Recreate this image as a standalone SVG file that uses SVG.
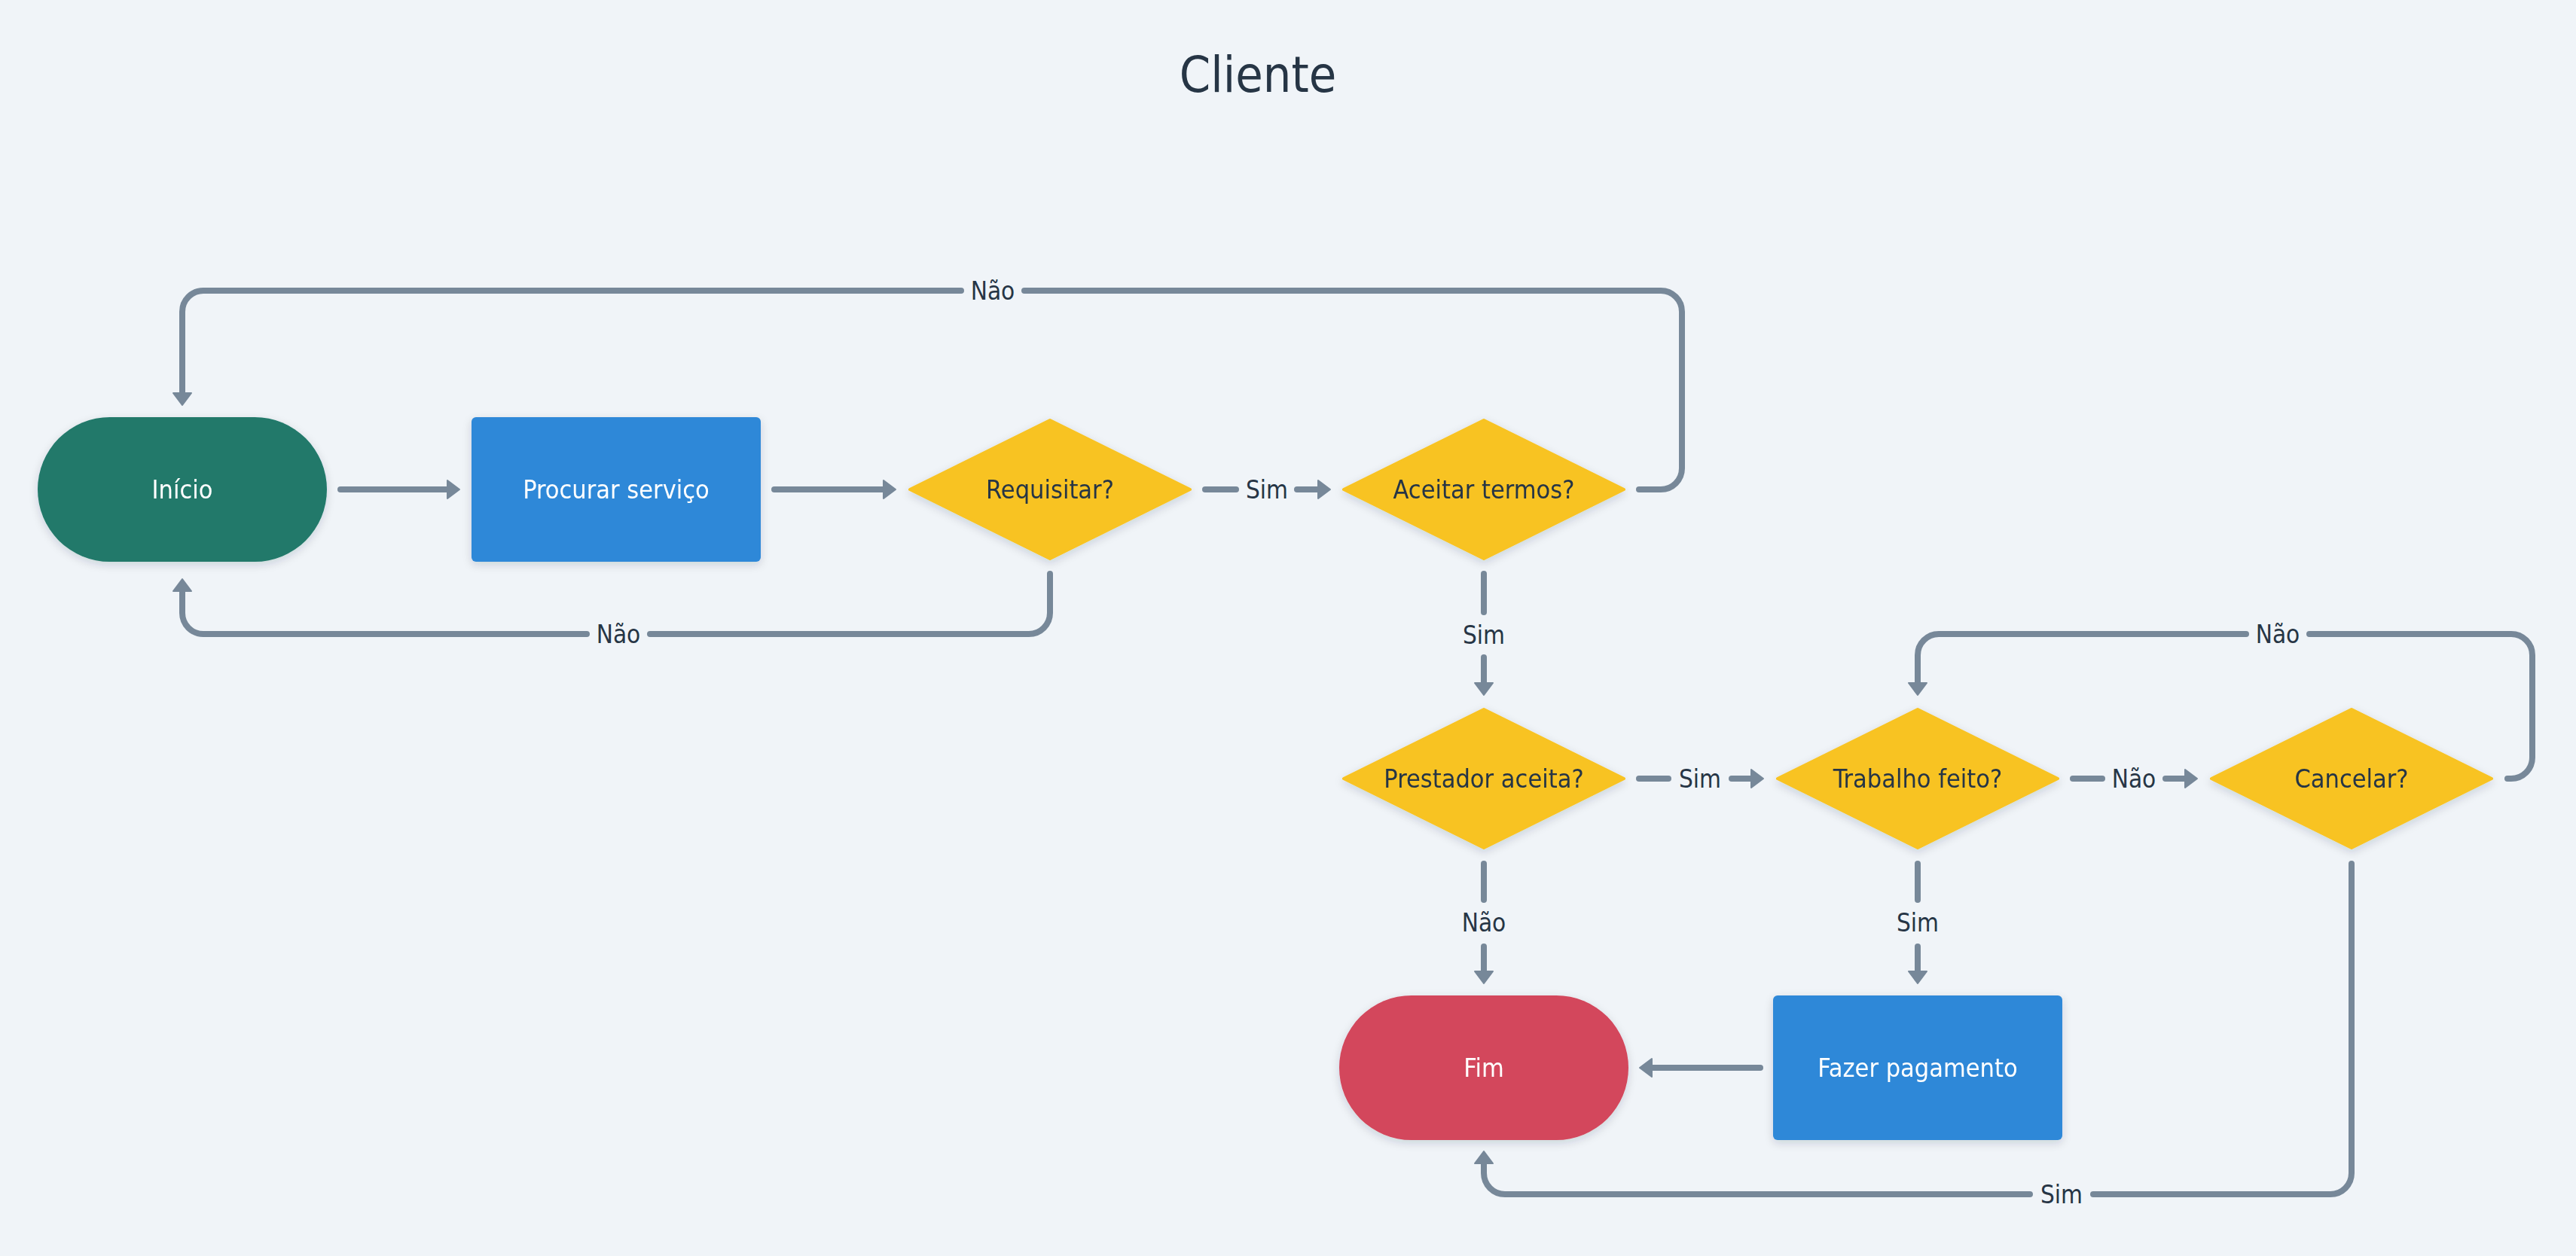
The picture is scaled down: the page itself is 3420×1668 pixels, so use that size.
<svg xmlns="http://www.w3.org/2000/svg" width="3420" height="1668" viewBox="0 0 3420 1668">
<style>
  text { font-family: "DejaVu Sans Condensed", "DejaVu Sans", sans-serif; font-stretch: condensed; text-anchor: middle; }
  .title { font-size: 66px; fill: #263545; }
  .nt { font-size: 34px; fill: #ffffff; }
  .dt { font-size: 34px; fill: #263545; }
  .lbl { font-size: 33px; fill: #263545; }
  .edge { fill: none; stroke: #778899; stroke-width: 8; stroke-linecap: round; stroke-linejoin: round; }
  .arr { marker-end: url(#ah); }
  .term-g { fill: #20796A; }
  .term-r { fill: #D3465B; }
  .proc { fill: #2D88D8; }
  .dec { fill: #F8C324; stroke: #F8C324; stroke-width: 4; stroke-linejoin: round; }
</style>
<defs>
  <filter id="sh" x="-20%" y="-20%" width="140%" height="150%">
    <feDropShadow dx="0" dy="4" stdDeviation="6" flood-color="#1a2a3a" flood-opacity="0.16"/>
  </filter>
  <marker id="ah" markerUnits="userSpaceOnUse" markerWidth="22" markerHeight="30" viewBox="-2 -15 22 30" refX="1" refY="0" orient="auto">
    <path d="M0,-12 L16,0 L0,12 Z" fill="#778899" stroke="#778899" stroke-width="2" stroke-linejoin="round"/>
  </marker>
</defs>
<rect x="0" y="0" width="3420" height="1668" fill="#F0F4F8"/>
<text class="title" x="1670" y="122">Cliente</text>

<g id="connectors">
  <path class="edge arr" d="M452,650 H595"/>
  <path class="edge arr" d="M1028,650 H1174"/>
  <path class="edge" d="M1600,650 H1641"/>
  <path class="edge arr" d="M1722,650 H1751"/>
  <text class="lbl" x="1682" y="662">Sim</text>

  <path class="edge" d="M2176,650 H2205 A28,28 0 0 0 2233,622 V414 A28,28 0 0 0 2205,386 H1360"/>
  <path class="edge arr" d="M1276,386 H270 A28,28 0 0 0 242,414 V523"/>
  <text class="lbl" x="1318" y="398">Não</text>

  <path class="edge" d="M1394,762 V814 A28,28 0 0 1 1366,842 H863"/>
  <path class="edge arr" d="M779,842 H270 A28,28 0 0 1 242,814 V784"/>
  <text class="lbl" x="821" y="854">Não</text>

  <path class="edge" d="M1970,762 V813"/>
  <path class="edge arr" d="M1970,873 V908"/>
  <text class="lbl" x="1970" y="855">Sim</text>

  <path class="edge" d="M2176,1034 H2215"/>
  <path class="edge arr" d="M2299,1034 H2326"/>
  <text class="lbl" x="2257" y="1046">Sim</text>

  <path class="edge" d="M2752,1034 H2791"/>
  <path class="edge arr" d="M2875,1034 H2902"/>
  <text class="lbl" x="2833" y="1046">Não</text>

  <path class="edge" d="M3329,1034 H3334 A28,28 0 0 0 3362,1006 V870 A28,28 0 0 0 3334,842 H3066"/>
  <path class="edge arr" d="M2982,842 H2574 A28,28 0 0 0 2546,870 V908"/>
  <text class="lbl" x="3024" y="854">Não</text>

  <path class="edge" d="M1970,1147 V1195"/>
  <path class="edge arr" d="M1970,1257 V1291"/>
  <text class="lbl" x="1970" y="1237">Não</text>

  <path class="edge" d="M2546,1147 V1195"/>
  <path class="edge arr" d="M2546,1257 V1291"/>
  <text class="lbl" x="2546" y="1237">Sim</text>

  <path class="edge arr" d="M2337,1418 H2192"/>

  <path class="edge" d="M3122,1147 V1558 A28,28 0 0 1 3094,1586 H2779"/>
  <path class="edge arr" d="M2695,1586 H1998 A28,28 0 0 1 1970,1558 V1544"/>
  <text class="lbl" x="2737" y="1598">Sim</text>
</g>

<g id="inicio" filter="url(#sh)">
  <rect class="term-g" x="50" y="554" width="384" height="192" rx="96" ry="96"/>
  <text class="nt" x="242" y="662">Início</text>
</g>
<g id="procurar" filter="url(#sh)">
  <rect class="proc" x="626" y="554" width="384" height="192" rx="6" ry="6"/>
  <text class="nt" x="818" y="662">Procurar serviço</text>
</g>
<g id="requisitar" filter="url(#sh)">
  <polygon class="dec" points="1208,650 1394,558 1580,650 1394,742"/>
  <text class="dt" x="1394" y="662">Requisitar?</text>
</g>
<g id="aceitar" filter="url(#sh)">
  <polygon class="dec" points="1784,650 1970,558 2156,650 1970,742"/>
  <text class="dt" x="1970" y="662">Aceitar termos?</text>
</g>
<g id="prestador" filter="url(#sh)">
  <polygon class="dec" points="1784,1034 1970,942 2156,1034 1970,1126"/>
  <text class="dt" x="1970" y="1046">Prestador aceita?</text>
</g>
<g id="trabalho" filter="url(#sh)">
  <polygon class="dec" points="2360,1034 2546,942 2732,1034 2546,1126"/>
  <text class="dt" x="2546" y="1046">Trabalho feito?</text>
</g>
<g id="cancelar" filter="url(#sh)">
  <polygon class="dec" points="2936,1034 3122,942 3308,1034 3122,1126"/>
  <text class="dt" x="3122" y="1046">Cancelar?</text>
</g>
<g id="fim" filter="url(#sh)">
  <rect class="term-r" x="1778" y="1322" width="384" height="192" rx="96" ry="96"/>
  <text class="nt" x="1970" y="1430">Fim</text>
</g>
<g id="fazer" filter="url(#sh)">
  <rect class="proc" x="2354" y="1322" width="384" height="192" rx="6" ry="6"/>
  <text class="nt" x="2546" y="1430">Fazer pagamento</text>
</g>
</svg>
